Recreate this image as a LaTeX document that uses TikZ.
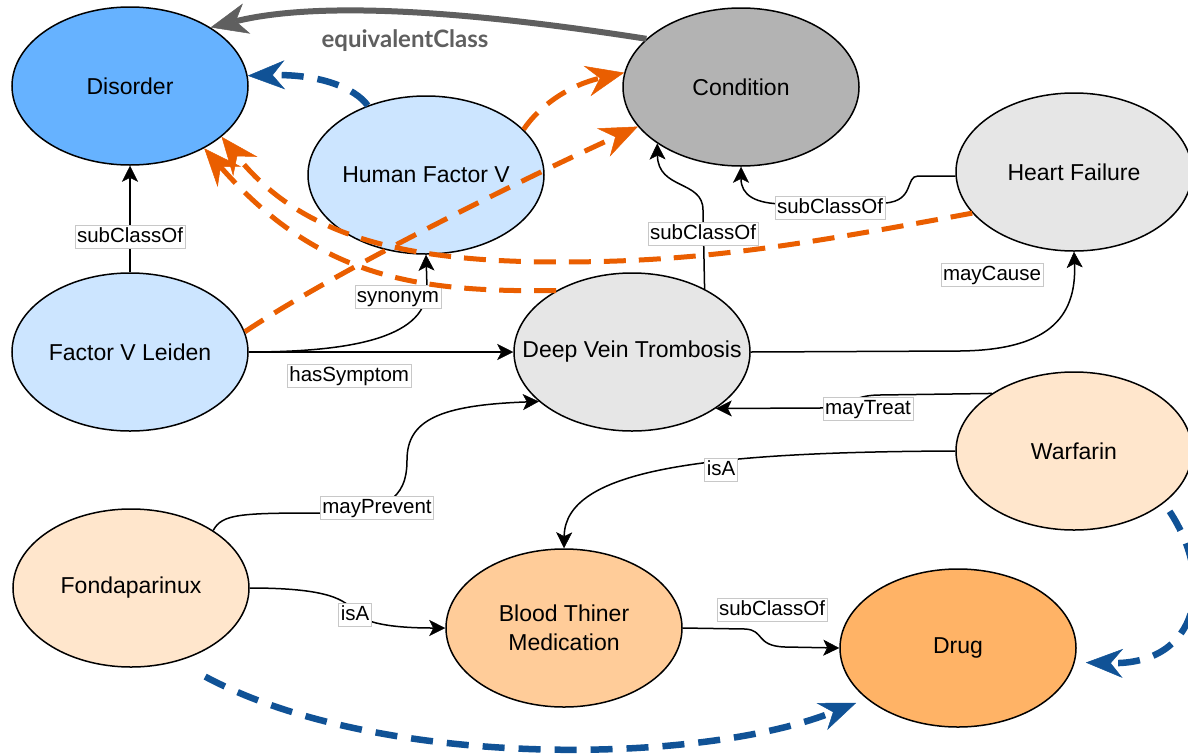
\documentclass[tikz,border=0pt]{standalone}
\usepackage{fontspec}
\setmainfont{Liberation Sans}
\newfontfamily\latofont{Lato}
\usetikzlibrary{shapes.geometric,arrows.meta,calc}
\definecolor{cDisorder}{RGB}{102,178,255}
\definecolor{cCond}{RGB}{179,179,179}
\definecolor{cLightBlue}{RGB}{204,229,255}
\definecolor{cLightGray}{RGB}{230,230,230}
\definecolor{cPeach}{RGB}{255,230,204}
\definecolor{cBTM}{RGB}{255,204,153}
\definecolor{cDrug}{RGB}{255,179,102}
\definecolor{cOrange}{RGB}{234,94,0}
\definecolor{cBlue}{RGB}{16,82,150}
\definecolor{cGrayArrow}{RGB}{95,95,95}
\definecolor{cLblBorder}{RGB}{200,200,200}
\begin{document}
\begin{tikzpicture}[x=1pt,y=-1pt,
  ent/.style={ellipse, draw=black, line width=1.5pt, minimum width=236pt, minimum height=158pt, inner sep=0pt, font=\fontsize{23}{29}\selectfont, align=center},
  lbl/.style={fill=white, draw=cLblBorder, line width=0.8pt, font=\fontsize{20.5}{24}\selectfont, inner xsep=2pt, inner ysep=2pt, text height=15pt, text depth=4.5pt},
  rel/.style={draw=black, line width=1.5pt, -{Stealth[length=16pt,width=16pt,inset=4pt,line width=0.5pt]}},
  inferred/.style={draw=cOrange, line width=5pt, dash pattern=on 22pt off 13pt, -{Stealth[length=38pt,width=31pt,inset=13pt,line width=0.5pt]}},
  bluedash/.style={draw=cBlue, line width=6.5pt, dash pattern=on 22pt off 14pt, -{Stealth[length=37pt,width=29pt,inset=12pt,line width=0.5pt]}},
  eqv/.style={draw=cGrayArrow, line width=6pt, -{Stealth[length=37pt,width=31pt,inset=11pt,line width=0.5pt]}},
]
\fill[white] (0,0) rectangle (1188,755);
\useasboundingbox (0,0) rectangle (1188,755);

% entities
\node[ent, fill=cDisorder] (dis) at (130,86) {Disorder};
\node[ent, fill=cCond] (cond) at (741,87) {Condition};
\node[ent, fill=cLightBlue] (hfv) at (426,175) {\makebox[0pt]{Human Factor V}};
\node[ent, fill=cLightGray] (hf) at (1074,172) {Heart Failure};
\node[ent, fill=cLightBlue] (fvl) at (130,352) {\makebox[0pt]{Factor V Leiden}};
\node[ent, fill=cLightGray] (dvt) at (632,352) {\makebox[0pt]{Deep Vein Trombosis}};
\node[ent, fill=cPeach] (war) at (1074,451) {Warfarin};
\node[ent, fill=cPeach] (fon) at (131,588) {Fondaparinux};
\node[ent, fill=cBTM] (btm) at (564,628) {Blood Thiner\\Medication};
\node[ent, fill=cDrug] (drug) at (958,648) {Drug};

% black relations
\draw[rel] (fvl.north) -- node[lbl, pos=0.33] (l1) {subClassOf} (dis.south);
\draw[rel] (fvl.east) -- node[lbl, pos=0.38, yshift=-24pt] (l2) {hasSymptom} (dvt.west);
\draw[rel] (fvl.east) .. controls (360,352) and (427,335) .. (427,288) -- (hfv.south);
\node[lbl] (l3) at (398,297) {synonym};
\draw[rel] (dvt.41) -- (703,210) .. controls (703,180) and (658,190) .. (cond.214);
\node[lbl] (l4) at (703,234) {subClassOf};
\draw[rel] (hf.182) -- (918,176) .. controls (905,176) and (915,201) .. (885,203) -- (785,204) .. controls (755,204) and (741,195) .. (cond.south);
\node[lbl] (l5) at (830,208) {subClassOf};
\draw[rel] (dvt.east) -- (960,351) .. controls (1045,350) and (1077,320) .. (hf.south);
\node[lbl] (l6) at (992,275) {mayCause};
\draw[rel] (war.145) -- (880,395) .. controls (850,395) and (850,408) .. (820,408) -- (dvt.326);
\node[lbl] (l7) at (868,409) {mayTreat};
\draw[rel] (war.west) .. controls (700,452) and (565,470) .. (btm.north);
\node[lbl] (l8) at (721,470) {isA};
\draw[rel] (fon.35) .. controls (222,514) and (240,513) .. (320,513) .. controls (385,513) and (407,500) .. (407,460) .. controls (407,420) and (440,405) .. (dvt.208);
\node[lbl] (l9) at (377,508) {mayPrevent};
\draw[rel] (fon.east) .. controls (330,588) and (345,600) .. (355,612) .. controls (365,625) and (400,628) .. (btm.west);
\node[lbl] (l10) at (355,615) {isA};
\draw[rel] (btm.east) -- (745,629) .. controls (765,630) and (755,646) .. (785,647) -- (drug.west);
\node[lbl] (l11) at (772,610) {subClassOf};

% equivalentClass
\draw[eqv] (cond.153) .. controls (500,16) and (330,-2) .. (dis.36);
\node[text=cGrayArrow, font=\latofont\bfseries\fontsize{24}{28}\selectfont] (leq) at (405,41) {equivalentClass};

% inferred (orange)
\draw[inferred] (hfv.25) .. controls (540,105) and (570,85) .. (cond.173);
\draw[inferred] (fvl.10) .. controls (330,275) and (500,190) .. (cond.201);
\draw[inferred] (dvt.141) .. controls (420,292) and (320,280) .. (dis.320);
\draw[inferred] (hf.202) .. controls (800,245) and (700,262) .. (560,262) .. controls (400,262) and (300,235) .. (dis.331);

% blue dashed
\draw[bluedash] (hfv.130) .. controls (355,88) and (320,74) .. (dis.5);
\draw[bluedash, shorten <=32pt, shorten >=11pt] (fon.302) .. controls (380,770) and (700,765) .. (drug.209);
\draw[bluedash, shorten <=10pt, shorten >=11pt] (war.330) .. controls (1215,580) and (1200,665) .. (drug.353);
\end{tikzpicture}
\end{document}
